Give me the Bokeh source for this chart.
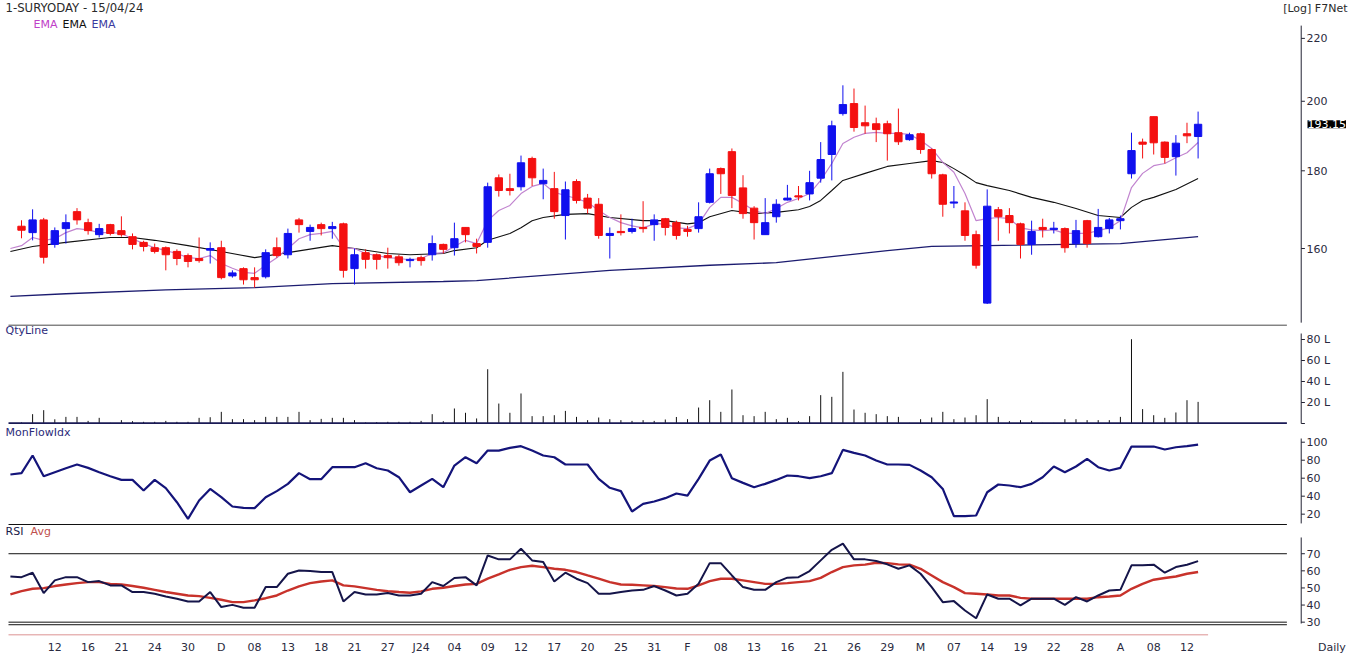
from bokeh.plotting import figure
from bokeh.layouts import column
from bokeh.models import Range1d, FixedTicker, Label
from bokeh.embed import file_html
from bokeh.resources import INLINE
from bokeh.core.properties import value

# ---------------- data ----------------
opens = [165.5, 163.9, 167.1, 161.0, 164.9, 169.2, 166.4, 163.4, 165.9, 164.4,
         162.9, 161.5, 160.2, 160.2, 159.3, 158.3, 157.6, 159.6, 160.2, 153.5,
         155.2, 153.1, 153.3, 160.2, 158.5, 167.1, 164.2, 165.9, 164.9, 166.1,
         155.2, 159.0, 158.5, 158.3, 158.0, 157.1, 157.8, 158.5, 161.0, 160.2,
         165.2, 161.2, 161.5, 178.1, 175.2, 175.7, 183.4, 176.5, 175.2, 168.2,
         177.1, 172.7, 171.1, 163.2, 164.2, 164.2, 165.2, 165.9, 167.4, 166.4,
         164.7, 164.9, 171.6, 180.6, 185.3, 175.4, 170.1, 163.4, 167.9, 172.2,
         173.3, 173.8, 178.0, 184.5, 196.3, 199.3, 193.6, 193.3, 193.3, 190.7,
         188.7, 190.4, 185.9, 178.9, 171.4, 169.4, 163.4, 147.3, 169.7, 168.2,
         166.1, 161.0, 165.2, 164.7, 164.9, 161.2, 166.9, 162.9, 164.9, 166.9,
         179.2, 188.0, 195.4, 188.0, 183.9, 190.4, 189.6]
highs = [167.0, 169.8, 167.6, 165.2, 168.5, 170.1, 167.4, 166.1, 166.1, 168.0,
         163.7, 161.9, 161.2, 160.5, 159.8, 158.8, 162.7, 161.5, 161.9, 154.8,
         155.5, 155.5, 159.8, 162.7, 164.9, 167.6, 165.9, 166.4, 166.6, 166.4,
         160.0, 159.8, 158.8, 160.2, 158.5, 157.8, 158.3, 163.2, 161.2, 166.4,
         165.2, 162.4, 176.8, 179.0, 179.2, 184.2, 183.9, 180.6, 179.7, 177.1,
         177.7, 173.8, 172.7, 165.2, 168.5, 167.4, 171.9, 168.5, 167.6, 166.9,
         165.6, 171.6, 180.6, 180.9, 186.2, 178.8, 170.6, 172.7, 172.4, 176.2,
         175.9, 180.0, 188.0, 194.2, 204.9, 203.9, 198.7, 195.1, 194.2, 197.8,
         190.7, 190.7, 186.2, 179.2, 175.9, 171.6, 164.4, 175.0, 170.4, 170.1,
         166.4, 166.9, 167.4, 166.6, 165.2, 167.1, 167.1, 169.9, 167.6, 168.2,
         190.7, 189.0, 195.4, 188.2, 190.0, 193.6, 196.9]
lows = [162.5, 162.0, 156.4, 160.2, 161.2, 165.9, 163.4, 162.7, 163.2, 162.9,
        159.8, 159.3, 158.8, 154.8, 156.0, 155.5, 156.6, 156.4, 152.7, 153.1,
        151.5, 150.8, 152.9, 157.8, 157.6, 163.9, 161.9, 163.2, 162.4, 153.1,
        151.5, 155.2, 155.0, 155.2, 155.9, 155.5, 155.9, 157.1, 158.8, 158.3,
        161.5, 158.8, 160.2, 173.1, 173.4, 174.7, 175.9, 172.4, 167.4, 162.2,
        171.3, 168.7, 162.4, 157.6, 163.2, 163.7, 163.9, 161.9, 163.2, 162.2,
        162.9, 163.9, 171.3, 173.8, 170.1, 167.4, 162.2, 163.4, 166.4, 172.1,
        172.1, 172.1, 176.8, 177.4, 195.7, 191.0, 190.4, 188.0, 182.8, 187.2,
        188.4, 184.7, 177.9, 167.9, 170.1, 161.9, 155.2, 147.1, 161.9, 163.7,
        157.6, 158.5, 162.7, 163.7, 159.0, 160.2, 160.2, 162.7, 163.7, 164.7,
        177.9, 183.4, 184.5, 182.0, 178.7, 187.7, 183.4]
closes = [164.5, 167.1, 157.9, 164.4, 166.4, 167.1, 164.4, 164.9, 163.7, 163.4,
          161.0, 160.5, 159.3, 158.5, 157.6, 156.9, 157.1, 160.0, 153.1, 154.2,
          152.6, 152.6, 159.0, 158.3, 163.7, 165.9, 165.2, 164.9, 165.4, 154.8,
          158.5, 157.4, 157.4, 157.8, 156.6, 157.4, 157.1, 161.2, 159.8, 162.4,
          163.4, 160.5, 175.7, 174.7, 174.7, 182.2, 178.1, 177.4, 169.2, 174.9,
          172.1, 170.1, 163.2, 163.7, 163.9, 164.9, 164.9, 167.1, 165.2, 163.2,
          164.2, 167.9, 179.2, 179.2, 173.4, 168.7, 166.4, 166.4, 171.1, 172.7,
          173.0, 176.8, 183.1, 192.7, 199.0, 192.2, 192.7, 191.6, 190.4, 188.1,
          190.1, 185.9, 179.2, 171.1, 171.7, 163.2, 156.0, 170.6, 167.9, 166.4,
          161.0, 164.2, 164.7, 165.0, 160.2, 164.4, 161.2, 165.2, 167.1, 167.4,
          185.6, 187.4, 187.8, 183.7, 187.7, 189.8, 193.15]
# volume in lakhs
volume = [1.0, 8.9, 12.7, 4.0, 6.3, 6.3, 2.5, 5.4, 0.6, 3.2,
          2.2, 1.6, 1.6, 2.5, 1.6, 1.6, 5.4, 6.0, 11.1, 4.1,
          4.1, 3.2, 6.3, 6.3, 6.3, 11.1, 3.2, 4.4, 5.4, 5.4,
          3.2, 1.0, 1.3, 1.6, 1.6, 1.6, 2.5, 8.9, 2.2, 14.3,
          10.2, 4.8, 51.7, 19.0, 10.2, 28.6, 7.0, 7.0, 7.9, 12.0,
          6.3, 3.2, 5.7, 4.1, 3.2, 2.5, 3.2, 2.5, 3.8, 6.2,
          4.1, 15.2, 22.2, 11.1, 32.4, 7.9, 7.0, 11.1, 4.1, 5.4,
          2.2, 7.0, 27.0, 25.4, 49.2, 13.3, 10.2, 8.9, 7.0, 6.3,
          0.6, 4.1, 5.7, 11.1, 4.1, 5.7, 7.9, 23.2, 6.3, 2.2,
          3.2, 2.5, 0.6, 0.6, 4.1, 4.1, 3.2, 3.2, 3.2, 6.3,
          80.3, 13.7, 7.9, 5.4, 10.5, 22.2, 20.6]

# indicator series start one session before the first visible candle (index -1)
ema_short = [160.0, 160.7, 162.7, 162.0, 162.4, 163.9, 164.9, 164.6, 163.9, 163.9,
             163.7, 162.4, 161.2, 160.2, 159.5, 158.8, 157.8, 157.6, 158.3, 156.4,
             155.3, 154.3, 154.1, 156.0, 157.8, 160.0, 162.4, 163.4, 163.7, 164.2,
             160.2, 160.0, 158.8, 158.3, 157.8, 157.6, 157.3, 157.6, 158.8, 159.0,
             160.5, 162.0, 161.2, 166.9, 169.5, 170.8, 173.9, 175.8, 176.6, 174.2,
             173.4, 172.6, 171.6, 169.5, 167.7, 166.4, 165.6, 165.1, 166.1, 166.1,
             165.1, 164.9, 166.1, 170.3, 172.9, 172.9, 171.3, 169.5, 168.7, 170.0,
             171.6, 172.6, 173.9, 177.4, 182.0, 187.6, 189.4, 190.5, 190.8, 190.5,
             190.5, 190.2, 188.5, 186.2, 182.3, 179.6, 173.9, 166.9, 167.4, 167.7,
             167.4, 165.1, 164.6, 164.4, 164.6, 163.7, 163.7, 163.7, 164.4, 165.1,
             166.9, 175.5, 179.3, 181.4, 182.0, 183.6, 185.0, 187.9]
ema_mid_idx = [-1, 1, 4, 8, 10, 12, 15, 18, 21, 24, 28, 30, 33, 35, 38, 39, 41, 42, 44, 45,
               46, 47, 49, 51, 53, 56, 58, 60, 61, 62, 64, 66, 68, 70, 71, 72, 73, 74, 76, 78,
               80, 82, 83, 84, 85, 86, 87, 89, 91, 93, 95, 97, 99, 100, 101, 102, 104, 106]
ema_mid = [159.3, 160.5, 161.5, 162.7, 162.7, 162.0, 160.7, 159.3, 157.8, 159.0,
           160.7, 160.0, 158.8, 158.5, 158.8, 159.5, 160.2, 162.0, 163.7, 165.1,
           166.9, 167.7, 168.5, 168.7, 167.7, 166.9, 166.9, 166.1, 166.4, 167.9,
           169.5, 168.7, 169.0, 169.7, 170.5, 172.1, 174.7, 177.4, 179.3, 181.2,
           182.0, 182.8, 182.3, 180.6, 178.8, 176.8, 176.0, 174.7, 172.9, 171.6,
           170.0, 168.2, 167.7, 170.3, 172.1, 172.9, 175.0, 177.9]
ema_long_idx = [-1, 4, 13, 21, 28, 38, 41, 53, 62, 68, 78, 82, 87, 99, 106]
ema_long = [148.8, 149.4, 150.3, 150.8, 151.7, 152.2, 152.4, 154.8, 156.0, 156.6,
            159.5, 160.5, 160.7, 161.2, 162.9]

mfi = [64.1, 65.6, 85.2, 62.2, 66.7, 71.1, 75.2, 71.5, 66.7, 62.2,
       58.1, 58.1, 46.3, 58.1, 48.9, 33.3, 14.8, 35.2, 48.1, 38.9,
       28.5, 27.0, 26.7, 38.9, 45.6, 53.7, 65.6, 58.9, 58.9, 72.2,
       72.2, 72.2, 76.7, 71.1, 68.5, 61.1, 44.4, 51.9, 59.3, 50.0,
       74.1, 83.3, 76.7, 90.7, 90.7, 93.7, 95.6, 90.7, 85.2, 83.3,
       75.2, 75.2, 75.2, 59.3, 49.3, 45.6, 23.0, 31.5, 34.1, 37.8,
       43.0, 40.7, 59.3, 79.6, 86.3, 60.0, 54.8, 50.0, 53.7, 58.1,
       63.0, 62.2, 60.0, 62.2, 65.6, 91.5, 88.1, 85.2, 79.6, 75.2,
       75.2, 74.8, 68.5, 61.1, 48.1, 17.8, 17.8, 18.5, 44.4, 53.0,
       51.9, 50.0, 53.7, 61.1, 73.0, 66.7, 73.0, 81.5, 72.2, 68.5,
       71.5, 95.2, 95.2, 95.2, 91.9, 94.4, 95.6, 97.4]
rsi = [56.7, 56.3, 58.9, 47.0, 54.4, 56.3, 56.3, 53.4, 54.0, 51.5,
       51.5, 47.6, 47.6, 46.6, 45.0, 43.7, 42.1, 42.1, 47.6, 38.8,
       40.1, 38.4, 38.4, 50.5, 50.5, 58.3, 60.2, 59.9, 59.3, 59.3,
       42.1, 47.6, 46.2, 46.2, 47.0, 45.6, 45.6, 46.6, 53.4, 51.1,
       55.8, 56.3, 51.5, 69.0, 66.7, 66.7, 72.9, 66.1, 65.1, 53.8,
       58.9, 55.4, 52.8, 46.6, 46.6, 47.6, 48.5, 48.9, 51.1, 48.5,
       45.6, 46.6, 52.4, 64.5, 64.5, 57.3, 50.5, 48.9, 48.9, 53.4,
       56.0, 56.3, 59.9, 66.1, 72.3, 75.9, 66.7, 66.7, 65.7, 63.8,
       61.2, 63.2, 58.3, 50.5, 41.7, 42.3, 36.8, 32.3, 46.2, 43.7,
       43.7, 39.8, 43.7, 43.7, 43.7, 40.1, 44.6, 42.1, 45.6, 48.5,
       48.9, 63.2, 63.2, 63.6, 58.9, 62.2, 63.6, 65.7]
rsi_avg = [46.2, 48.1, 49.5, 49.9, 51.1, 52.0, 52.8, 53.4, 53.4, 52.4,
           52.0, 51.1, 50.1, 48.9, 47.6, 46.6, 45.6, 45.2, 44.2, 43.1,
           41.7, 41.7, 42.7, 44.0, 45.6, 48.5, 50.9, 52.8, 53.8, 54.4,
           51.5, 50.9, 49.9, 48.9, 48.1, 47.6, 47.2, 48.0, 49.5, 50.1,
           51.1, 52.0, 52.4, 55.4, 57.9, 60.6, 62.2, 63.0, 62.2, 61.2,
           60.6, 59.3, 57.3, 55.4, 53.4, 52.0, 51.9, 51.5, 51.1, 50.5,
           49.7, 49.5, 51.5, 54.0, 55.4, 55.4, 54.4, 53.4, 52.4, 52.4,
           52.8, 53.4, 54.0, 55.9, 59.3, 62.2, 63.2, 63.6, 64.7, 64.5,
           63.8, 63.6, 61.2, 57.3, 53.4, 50.5, 47.0, 46.6, 46.2, 45.6,
           45.6, 44.2, 43.7, 43.7, 43.7, 43.7, 43.7, 43.7, 44.6, 45.0,
           45.6, 49.5, 52.4, 54.8, 55.8, 56.7, 58.3, 59.3]

date_labels = ["12", "16", "21", "24", "30", "D", "08", "13", "18", "21", "27", "J24",
               "04", "09", "12", "17", "20", "25", "31", "F", "08", "13", "16", "21",
               "26", "29", "M", "07", "14", "19", "22", "28", "A", "08", "12"]
last_close = 193.15
price_ticks = [160, 180, 200, 220]
price_tick_labels = ["160", "180", "200", "220"]
vol_ticks = [0, 20, 40, 60, 80]
vol_tick_labels = ["", "20 L", "40 L", "60 L", "80 L"]
mfi_ticks = [20, 40, 60, 80, 100]
mfi_tick_labels = ["20", "40", "60", "80", "100"]
rsi_ticks = [30, 40, 50, 60, 70]
rsi_tick_labels = ["30", "40", "50", "60", "70"]

# ---------------- derived ----------------
n = len(closes)
idx = list(range(n))
ind_x = list(range(-1, -1 + len(rsi)))
UP, DOWN = "#1010ee", "#f41010"
colors = [UP if c >= o else DOWN for o, c in zip(opens, closes)]
tops = [max(o, c) for o, c in zip(opens, closes)]
bots = [min(o, c) for o, c in zip(opens, closes)]
tick_pos = [3 * (i + 1) for i in range(len(date_labels))]

FONT = "DejaVu Sans"
TXT = "#2a2a40"
AX_COL = "#222233"
W = 1352
xr = Range1d(-1.892, 119.91)      # whole canvas width is the frame
SEP_X0, SEP_X1 = -1.17, 114.0      # extent of the panel divider lines
AX_X = 115.29                      # x of the right-hand value scales
TICK = 0.33
LAB_X = 115.77
DAILY_X = 118.06


def make_fig(height, y_range, y_type="linear", bottom=0, xaxis=False):
    p = figure(width=W, height=height, x_range=xr, y_range=y_range, y_axis_type=y_type,
               y_axis_location=None, x_axis_location="below" if xaxis else None,
               toolbar_location=None, output_backend="svg",
               min_border_left=0, min_border_right=0, min_border_top=0,
               min_border_bottom=bottom)
    p.grid.visible = False
    p.outline_line_color = None
    p.background_fill_color = "white"
    p.border_fill_color = "white"
    return p


def value_scale(p, lo, hi, ticks, labels):
    k = len(ticks)
    p.segment(x0=[AX_X], y0=[lo], x1=[AX_X], y1=[hi], line_color=AX_COL, line_width=1)
    p.segment(x0=[AX_X] * k, y0=ticks, x1=[AX_X + TICK] * k, y1=ticks,
              line_color=AX_COL, line_width=1)
    p.text(x=[LAB_X] * k, y=ticks, text=labels, text_font=value(FONT),
           text_font_size="11px", text_color=TXT, text_baseline="middle",
           text_align="left")


def add_text(p, text, x, y, color, align="left", bg=None, size="11px"):
    lab = Label(x=x, y=y, x_units="screen", y_units="data", text=text,
                text_font=FONT, text_font_size=size, text_color=color,
                text_align=align, text_baseline="middle")
    if bg is not None:
        lab.background_fill_color = bg
    p.add_layout(lab)


def divider(p, y, color="#111111", width=1.0):
    p.segment(x0=[SEP_X0], y0=[y], x1=[SEP_X1], y1=[y], line_color=color, line_width=width)


# ---------------- price panel ----------------
p1 = make_fig(324, Range1d(142.6, 233.0), y_type="log")
p1.line(ema_long_idx, ema_long, line_color="#1c1c70", line_width=1.3)
p1.line(ema_mid_idx, ema_mid, line_color="#111111", line_width=1.1)
p1.line(ind_x, ema_short, line_color="#c184cf", line_width=1.2)
p1.segment(x0=idx, y0=lows, x1=idx, y1=highs, line_color=colors, line_width=1)
p1.vbar(x=idx, width=0.66, top=tops, bottom=bots, fill_color=colors,
        line_color=colors, line_width=1)
value_scale(p1, 143.0, 224.3, price_ticks, price_tick_labels)
add_text(p1, "1-SURYODAY - 15/04/24", 5, 230.5, "#2a2a2a", size="11.7px")
add_text(p1, "EMA", 33, 224.8, "#c040c8")
add_text(p1, "EMA", 62, 224.8, "#111111")
add_text(p1, "EMA", 91, 224.8, "#3a3aa0")
add_text(p1, "[Log] F7Net", 1347, 230.2, "#2a2a2a", align="right")
add_text(p1, "193.15", 1307, last_close, "white", bg="black")

# ---------------- volume panel ----------------
p2 = make_fig(100, Range1d(-0.95, 94.3))
p2.segment(x0=idx, y0=[0] * n, x1=idx, y1=volume, line_color="#111111", line_width=1)
divider(p2, 93.8)
divider(p2, 0, color="#1a1a55", width=2.5)
value_scale(p2, 0, 85.7, vol_ticks, vol_tick_labels)
add_text(p2, "QtyLine", 5, 88.6, "#2b2b7a")

# ---------------- money flow panel ----------------
p3 = make_fig(101, Range1d(7.4, 119.7))
p3.line(ind_x, mfi, line_color="#14147a", line_width=2.2)
divider(p3, 8.5, width=1.2)
value_scale(p3, 9.7, 104.1, mfi_ticks, mfi_tick_labels)
add_text(p3, "MonFlowIdx", 5, 110.8, "#2b2b7a")

# ---------------- RSI panel ----------------
p4 = make_fig(131, Range1d(22.2, 86.5), bottom=21, xaxis=True)
for lvl in (70, 30, 28.5):
    divider(p4, lvl)
p4.segment(x0=[SEP_X0], y0=[22.5], x1=[106.9], y1=[22.5], line_color="#d07070", line_width=1)
p4.line(ind_x, rsi_avg, line_color="#c8322b", line_width=2.4)
p4.line(ind_x, rsi, line_color="#15154a", line_width=2)
value_scale(p4, 29.2, 79.5, rsi_ticks, rsi_tick_labels)
add_text(p4, "RSI", 5, 83.0, "#1a1a4a")
add_text(p4, "Avg", 30, 83.0, "#c0504d")
xa = p4.xaxis[0]
xa.ticker = FixedTicker(ticks=tick_pos + [DAILY_X])
overrides = {t: s for t, s in zip(tick_pos, date_labels)}
overrides[DAILY_X] = "Daily"
xa.major_label_overrides = overrides
xa.axis_line_color = None
xa.major_tick_line_color = None
xa.minor_tick_line_color = None
xa.major_tick_out = 0
xa.major_label_standoff = 5
xa.major_label_text_font = FONT
xa.major_label_text_font_size = "11px"
xa.major_label_text_color = TXT

layout = column(p1, p2, p3, p4, spacing=0)
open("out.html", "w").write(file_html(layout, INLINE))
